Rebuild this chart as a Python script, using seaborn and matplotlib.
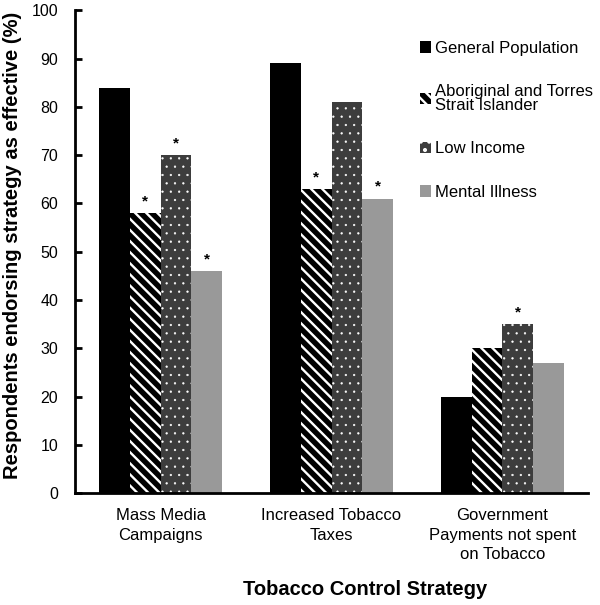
"""Grafica de barras agrupadas: estrategias de control del tabaco."""
import pandas as pd
import seaborn as sns
import matplotlib.pyplot as plt

# datos
strategies = ["Mass Media\nCampaigns", "Increased Tobacco\nTaxes",
              "Government\nPayments not spent\non Tobacco"]
groups = ["General Population", "Aboriginal and Torres\nStrait Islander",
          "Low Income", "Mental Illness"]
general_pop = [84, 89, 20]
aboriginal = [58, 63, 30]
low_income = [70, 81, 35]
mental_illness = [46, 61, 27]
# asteriscos de significancia por grupo
stars = [[False, False, False], [True, True, False],
         [True, False, True], [True, True, False]]

colors = ["#000000", "#000000", "#3d3d3d", "#999999"]
hatches = [None, "\\\\\\", "..", None]
hatch_lw = [1.0, 1.7, 0.4, 1.0]

df = pd.DataFrame({
    "strategy": strategies * 4,
    "group": [g for g in groups for _ in strategies],
    "value": general_pop + aboriginal + low_income + mental_illness,
})

plt.rcParams["font.family"] = ["Liberation Sans", "DejaVu Sans"]
plt.rcParams["hatch.linewidth"] = 1.7

fig = plt.figure(figsize=(6, 6.05), dpi=100)
ax = fig.add_axes([0.125, 0.185, 0.855, 0.798])

sns.barplot(data=df, x="strategy", y="value", hue="group", palette=colors,
            saturation=1, width=0.72, errorbar=None, linewidth=0,
            legend=False, ax=ax)

for cont, hatch, lw, flags in zip(ax.containers, hatches, hatch_lw, stars):
    for bar, flag in zip(cont.patches, flags):
        if hatch:
            bar.set_hatch(hatch)
            bar.set_edgecolor("white")
            bar.set_linewidth(0)
            if hasattr(bar, "set_hatch_linewidth"):
                bar.set_hatch_linewidth(lw)
            else:
                bar._hatch_linewidth = lw
        if flag:
            ax.text(bar.get_x() + bar.get_width() / 2, bar.get_height() + 1.0,
                    "*", ha="center", va="bottom", fontsize=11,
                    fontweight="bold")

ax.set_ylim(0, 100)
ax.set_xlim(-0.5, 2.5)
ax.set_yticks(range(0, 101, 10))
ax.tick_params(axis="y", direction="in", length=5, width=2, labelsize=11.5,
               pad=12)
ax.tick_params(axis="x", length=0, labelsize=12, pad=11)
for s in ["top", "right"]:
    ax.spines[s].set_visible(False)
for s in ["left", "bottom"]:
    ax.spines[s].set_linewidth(2)
for lab in ax.get_xticklabels():
    lab.set_linespacing(1.35)

ax.set_ylabel("Respondents endorsing strategy as effective (%)",
              fontsize=14.5, fontweight="bold")
ax.yaxis.set_label_coords(-0.103, 0.513)
ax.set_xlabel("Tobacco Control Strategy", fontsize=14.5, fontweight="bold")
ax.xaxis.set_label_coords(0.565, -0.18)

leg = ax.legend(ax.containers, groups, loc="upper left",
                bbox_to_anchor=(0.672, 0.937), frameon=False, fontsize=12,
                handlelength=0.7, handleheight=0.7, handletextpad=0.2,
                labelspacing=1.7, borderaxespad=0, borderpad=0)
for t in leg.get_texts():
    t.set_linespacing(0.9)

fig.savefig("out.png", dpi=100)
